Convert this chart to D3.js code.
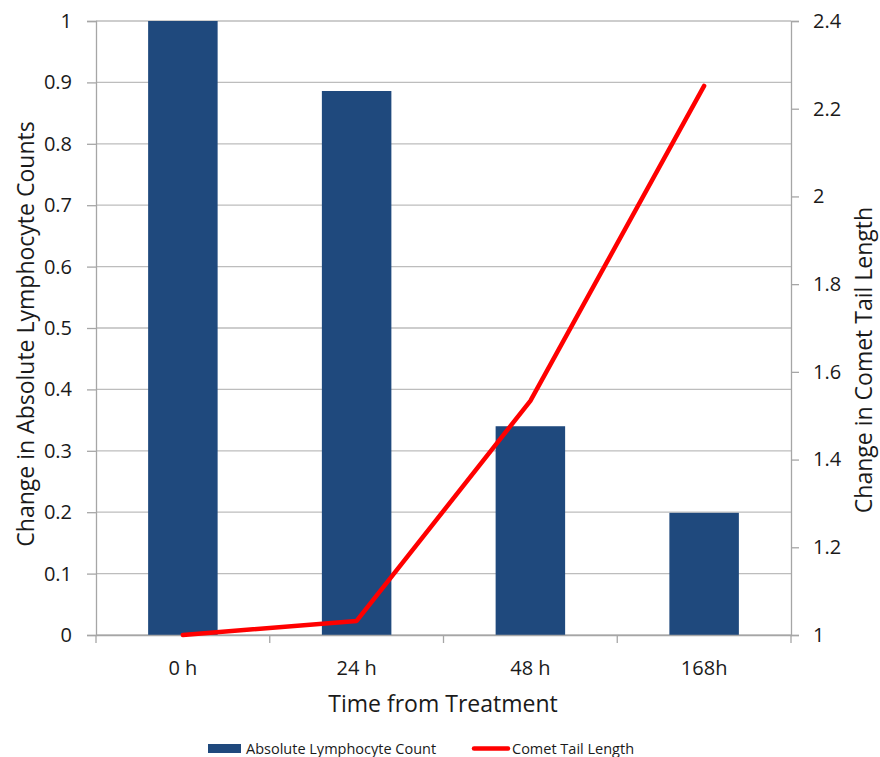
<!DOCTYPE html>
<html>
<head>
<meta charset="utf-8">
<script src="https://cdn.jsdelivr.net/npm/d3@7"></script>
<style>
  body { margin: 0; background: #fff; }
  svg { font-family: "Open Sans", Lato, sans-serif; }
</style>
</head>
<body>
<script>
// data
var categories = ["0 h", "24 h", "48 h", "168h"];
var lymphocyteCounts = [1.0, 0.886, 0.340, 0.199];
var cometTailLength = [1.0, 1.032, 1.534, 2.252];
var leftTicks = [0, 0.1, 0.2, 0.3, 0.4, 0.5, 0.6, 0.7, 0.8, 0.9, 1];
var rightTicks = [1, 1.2, 1.4, 1.6, 1.8, 2, 2.2, 2.4];

var w = 880, h = 757;
var plotLeft = 96, plotRight = 791, plotTop = 21, plotBottom = 635;

var svg = d3.select("body").append("svg")
    .attr("width", w)
    .attr("height", h);

var xScale = d3.scaleBand()
    .domain(categories)
    .range([plotLeft, plotRight]);

var yLeft = d3.scaleLinear().domain([0, 1]).range([plotBottom, plotTop]);
var yRight = d3.scaleLinear().domain([1, 2.4]).range([plotBottom, plotTop]);

// gridlines
svg.append("g")
    .selectAll("line")
    .data(leftTicks)
    .enter()
    .append("line")
    .attr("x1", plotLeft)
    .attr("x2", plotRight)
    .attr("y1", function (d) { return yLeft(d); })
    .attr("y2", function (d) { return yLeft(d); })
    .attr("stroke", "#bdbdbd")
    .attr("stroke-width", 1.3);

// bars
var barW = xScale.bandwidth() * 0.4;
svg.append("g")
    .selectAll("rect")
    .data(lymphocyteCounts)
    .enter()
    .append("rect")
    .attr("x", function (d, i) { return xScale(categories[i]) + (xScale.bandwidth() - barW) / 2; })
    .attr("y", function (d) { return yLeft(d); })
    .attr("width", barW)
    .attr("height", function (d) { return plotBottom - yLeft(d); })
    .attr("fill", "#1F497D");

// left axis
var leftAxis = svg.append("g")
    .attr("transform", "translate(" + plotLeft + ",0)")
    .call(d3.axisLeft(yLeft).tickValues(leftTicks).tickSize(9).tickPadding(15)
        .tickFormat(function (d) { return String(+d.toFixed(1)); }));

// right axis
var rightAxis = svg.append("g")
    .attr("transform", "translate(" + plotRight + ",0)")
    .call(d3.axisRight(yRight).tickValues(rightTicks).tickSize(8).tickPadding(14)
        .tickFormat(function (d) { return String(+d.toFixed(1)); }));

// bottom axis
var bottomAxis = svg.append("g")
    .attr("transform", "translate(0," + plotBottom + ")")
    .call(d3.axisBottom(xScale).tickSize(0).tickPadding(26));

// category boundary ticks
svg.append("g")
    .selectAll("line")
    .data(categories.concat(["end"]))
    .enter()
    .append("line")
    .attr("x1", function (d, i) { return plotLeft + i * xScale.bandwidth(); })
    .attr("x2", function (d, i) { return plotLeft + i * xScale.bandwidth(); })
    .attr("y1", plotBottom)
    .attr("y2", plotBottom + 8)
    .attr("stroke", "#a6a6a6")
    .attr("stroke-width", 1.3);

[leftAxis, rightAxis, bottomAxis].forEach(function (g) {
    g.selectAll(".domain").attr("stroke", "#a6a6a6").attr("stroke-width", 1.3);
    g.selectAll(".tick line").attr("stroke", "#a6a6a6").attr("stroke-width", 1.3);
    g.selectAll("text")
        .attr("font-family", "'Open Sans', Lato, sans-serif")
        .attr("font-size", "20px")
        .attr("fill", "#1a1a1a");
});

// line
svg.append("path")
    .datum(cometTailLength)
    .attr("fill", "none")
    .attr("stroke", "#FF0000")
    .attr("stroke-width", 4.5)
    .attr("stroke-linejoin", "round")
    .attr("stroke-linecap", "round")
    .attr("d", d3.line()
        .x(function (d, i) { return xScale(categories[i]) + xScale.bandwidth() / 2; })
        .y(function (d) { return yRight(d); })
    );

// axis titles
svg.append("text")
    .text("Change in Absolute Lymphocyte Counts")
    .attr("text-anchor", "middle")
    .attr("transform", "translate(34,334) rotate(-90)")
    .attr("font-size", "23px")
    .attr("fill", "#1a1a1a");

svg.append("text")
    .text("Change in Comet Tail Length")
    .attr("text-anchor", "middle")
    .attr("transform", "translate(872,360) rotate(-90)")
    .attr("font-size", "23px")
    .attr("fill", "#1a1a1a");

svg.append("text")
    .text("Time from Treatment")
    .attr("text-anchor", "middle")
    .attr("x", 443)
    .attr("y", 712)
    .attr("font-size", "23px")
    .attr("fill", "#1a1a1a");

// legend
var legend = svg.append("g").attr("font-size", "14.5px").attr("fill", "#1a1a1a");
legend.append("rect")
    .attr("x", 208).attr("y", 744)
    .attr("width", 33).attr("height", 9)
    .attr("fill", "#1F497D");
legend.append("text")
    .attr("x", 246).attr("y", 754)
    .text("Absolute Lymphocyte Count");
legend.append("line")
    .attr("x1", 474).attr("x2", 508)
    .attr("y1", 748.5).attr("y2", 748.5)
    .attr("stroke", "#FF0000")
    .attr("stroke-width", 4.5)
    .attr("stroke-linecap", "round");
legend.append("text")
    .attr("x", 512).attr("y", 754)
    .text("Comet Tail Length");
</script>
</body>
</html>
